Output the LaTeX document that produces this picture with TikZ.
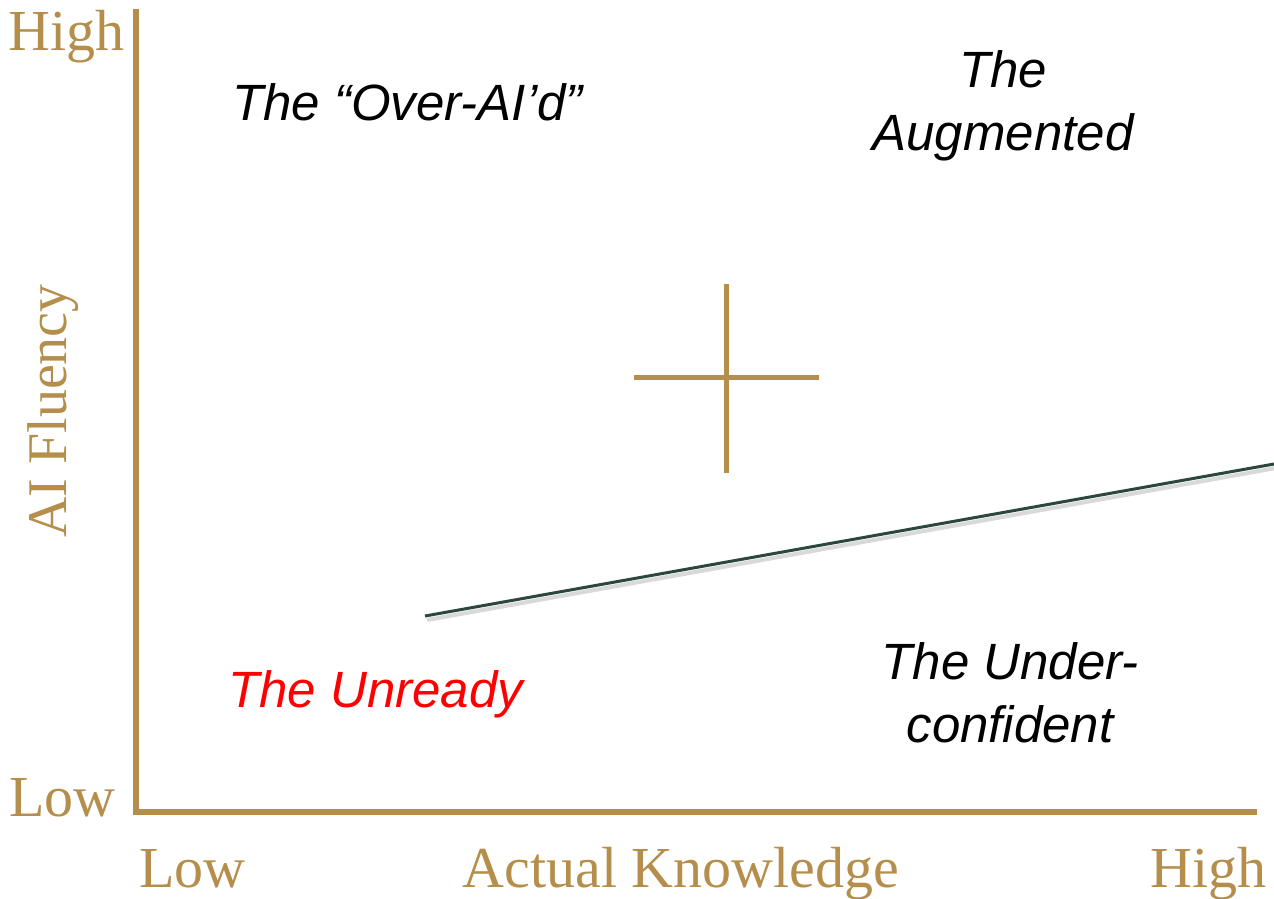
\documentclass[tikz,border=0pt]{standalone}
\usepackage{fontspec}
\setmainfont{Liberation Serif}
\newfontfamily\quadfont{Liberation Sans}
\usepackage{tikz}
\usetikzlibrary{positioning, calc}
\definecolor{axisgold}{RGB}{181, 142, 75}
\definecolor{trendgreen}{RGB}{44, 72, 60}
\definecolor{unreadyred}{RGB}{255, 0, 0}

\tikzset{
    axislabel/.style={inner sep=0pt, text=axisgold, font=\fontsize{58}{64}\selectfont},
    quadlabel/.style={inner sep=0pt, align=center, font=\quadfont\itshape\fontsize{51}{63}\selectfont}
}

\begin{document}
\begin{tikzpicture}[x=1pt, y=-1pt]
        \useasboundingbox (0,0) rectangle (1274,898);
        % Axes
        \coordinate (top) at (136,9);
        \coordinate (origin) at (136,812);
        \coordinate (right) at (1257,812);
        \draw[axisgold, line width=6pt, line join=miter] (top) -- (origin) -- (right);

        % Axis labels
        \node[axislabel, anchor=base east] (yhigh) at (125,50) {High};
        \node[axislabel, anchor=base east] (ylow) at (116,816) {Low};
        \node[axislabel, anchor=base west] (xlow) at (139,887) {Low};
        \node[axislabel, anchor=base] (xtitle) at (681,887) {Actual Knowledge};
        \node[axislabel, anchor=base east] (xhigh) at (1267,887) {High};
        \node[axislabel, anchor=base, rotate=90, font=\fontsize{56}{64}\selectfont] (ytitle) at (66,411) {AI Fluency};

        % Centre cross
        \coordinate (crossc) at (726,377);
        \draw[axisgold, line width=5pt] ($(crossc)+(0,-93)$) -- ($(crossc)+(0,96)$);
        \draw[axisgold, line width=5pt] ($(crossc)+(-92,0)$) -- ($(crossc)+(93,0)$);

        % Trend line with its shadow
        \coordinate (tstart) at (425,616);
        \coordinate (tend) at (1274,464);
        \draw[black!25, line width=4pt, opacity=0.6] ($(tstart)+(2,4)$) -- ($(tend)+(2,4)$);
        \draw[trendgreen, line width=3pt] (tstart) -- (tend);

        % Quadrant labels
        \node[quadlabel, anchor=base west] (overaid) at (232,120) {The “Over-AI’d”};
        \node[quadlabel, anchor=base] (augmented) at (1003,150) {The\\Augmented};
        \node[quadlabel, anchor=base west, text=unreadyred] (unready) at (228,707) {The Unready};
        \node[quadlabel, anchor=base] (underconf) at (1010,742) {The Under-\\confident};
    \end{tikzpicture}
\end{document}
